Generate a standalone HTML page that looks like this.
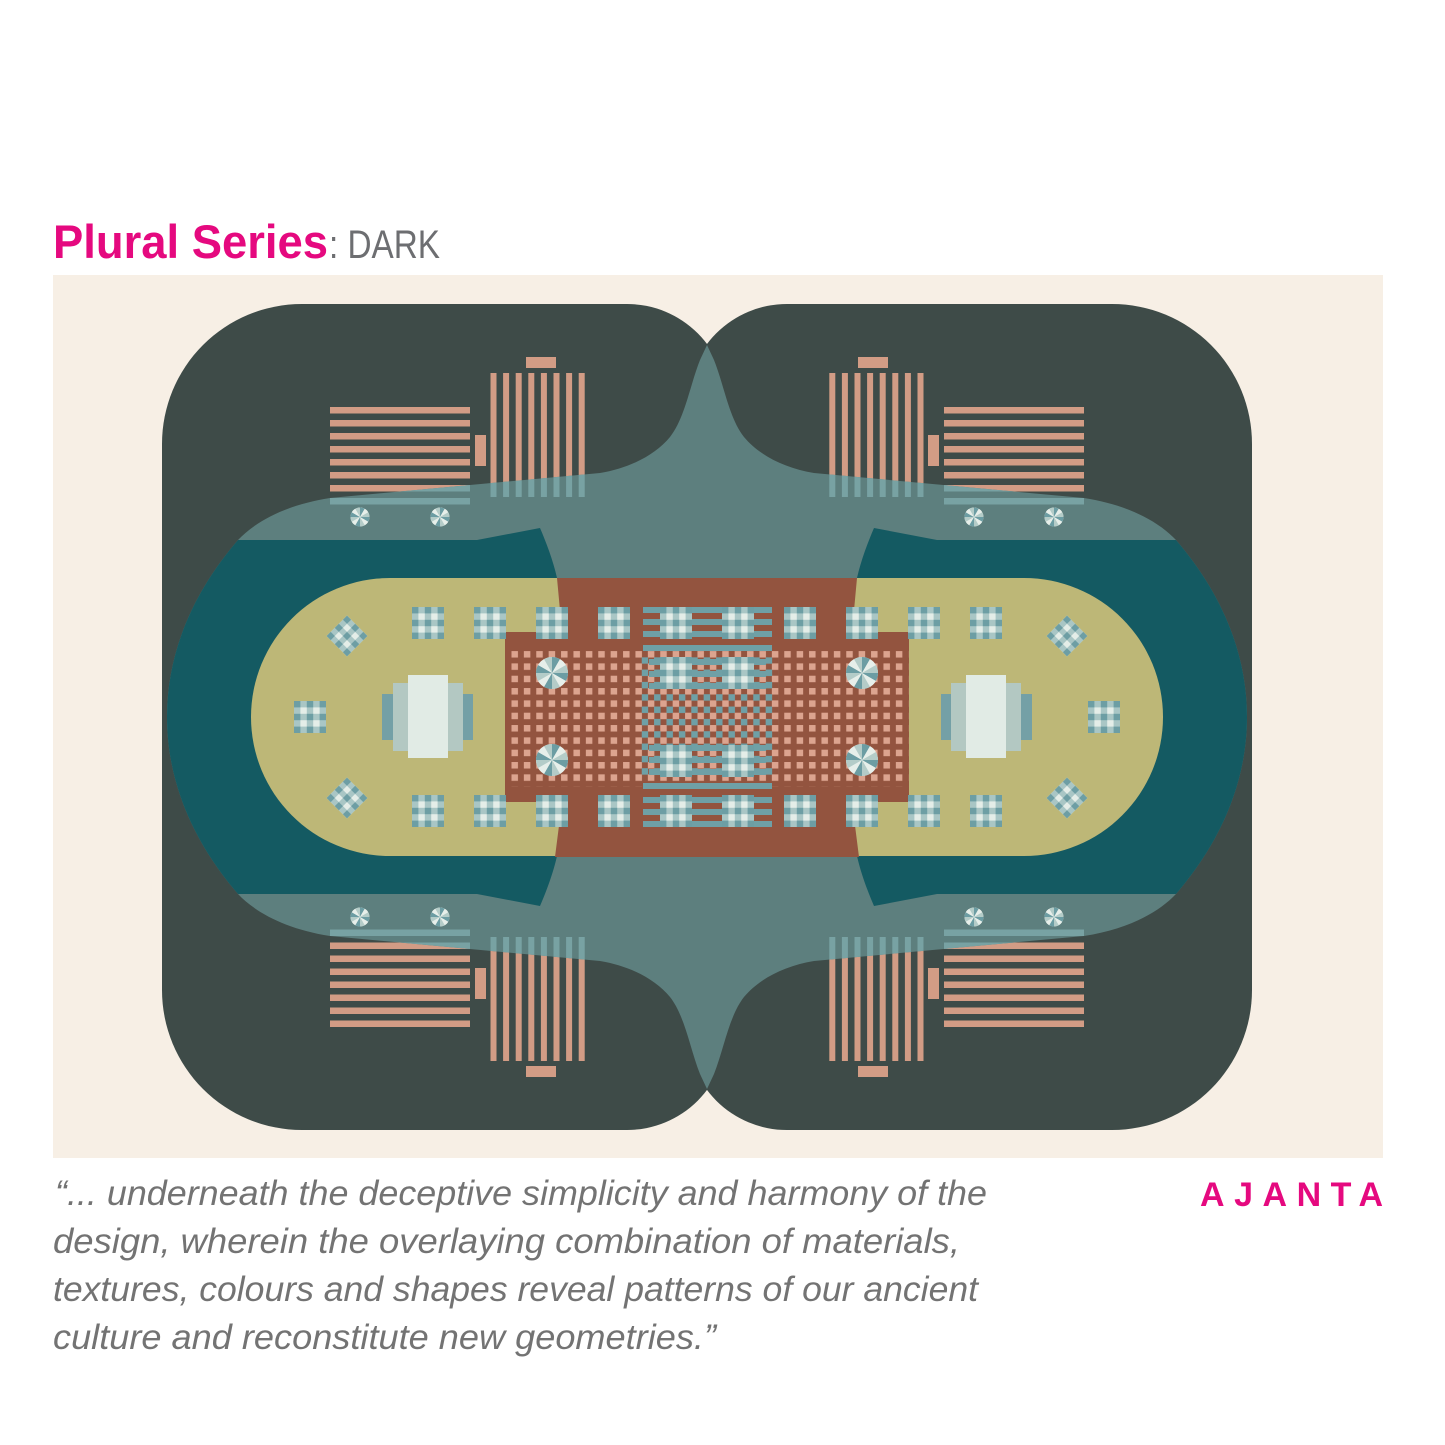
<!DOCTYPE html>
<html>
<head>
<meta charset="utf-8">
<style>
  html,body{margin:0;padding:0;background:#ffffff;}
  svg{display:block;}
</style>
</head>
<body>
<svg width="1445" height="1445" viewBox="0 0 1445 1445" xmlns="http://www.w3.org/2000/svg">
  <defs>
    <!-- gingham tile 32x32, 5 bands -->
    <g id="pl">
      <rect width="32" height="32" fill="#e4ede8"/>
      <g fill="#a9c6c5">
        <rect x="0" y="0" width="6.4" height="32"/>
        <rect x="12.8" y="0" width="6.4" height="32"/>
        <rect x="25.6" y="0" width="6.4" height="32"/>
        <rect x="0" y="0" width="32" height="6.4"/>
        <rect x="0" y="12.8" width="32" height="6.4"/>
        <rect x="0" y="25.6" width="32" height="6.4"/>
      </g>
      <g fill="#6d9ea4">
        <rect x="0" y="0" width="6.4" height="6.4"/><rect x="12.8" y="0" width="6.4" height="6.4"/><rect x="25.6" y="0" width="6.4" height="6.4"/>
        <rect x="0" y="12.8" width="6.4" height="6.4"/><rect x="12.8" y="12.8" width="6.4" height="6.4"/><rect x="25.6" y="12.8" width="6.4" height="6.4"/>
        <rect x="0" y="25.6" width="6.4" height="6.4"/><rect x="12.8" y="25.6" width="6.4" height="6.4"/><rect x="25.6" y="25.6" width="6.4" height="6.4"/>
      </g>
    </g>

    <!-- medallion, unit radius -->
    <g id="med">
      <circle r="1" fill="#e7efea"/>
      <path d="M0 0L1 0A1 1 0 0 1 .866 .5Z" fill="#6c9da3"/>
      <path d="M0 0L.866 .5A1 1 0 0 1 .5 .866Z" fill="#e7efea"/>
      <path d="M0 0L.5 .866A1 1 0 0 1 0 1Z" fill="#b4ccc8"/>
      <path d="M0 0L0 1A1 1 0 0 1 -.5 .866Z" fill="#6c9da3"/>
      <path d="M0 0L-.5 .866A1 1 0 0 1 -.866 .5Z" fill="#e7efea"/>
      <path d="M0 0L-.866 .5A1 1 0 0 1 -1 0Z" fill="#b4ccc8"/>
      <path d="M0 0L-1 0A1 1 0 0 1 -.866 -.5Z" fill="#6c9da3"/>
      <path d="M0 0L-.866 -.5A1 1 0 0 1 -.5 -.866Z" fill="#e7efea"/>
      <path d="M0 0L-.5 -.866A1 1 0 0 1 0 -1Z" fill="#b4ccc8"/>
      <path d="M0 0L0 -1A1 1 0 0 1 .5 -.866Z" fill="#6c9da3"/>
      <path d="M0 0L.5 -.866A1 1 0 0 1 .866 -.5Z" fill="#e7efea"/>
      <path d="M0 0L.866 -.5A1 1 0 0 1 1 0Z" fill="#b4ccc8"/>
    </g>

    <!-- salmon bar group (top-left quadrant) -->
    <g id="bars">
      <rect x="330" y="407" width="140" height="6.5"/>
      <rect x="330" y="420" width="140" height="6.5"/>
      <rect x="330" y="433" width="140" height="6.5"/>
      <rect x="330" y="446" width="140" height="6.5"/>
      <rect x="330" y="459" width="140" height="6.5"/>
      <rect x="330" y="472" width="140" height="6.5"/>
      <rect x="330" y="485" width="140" height="6.5"/>
      <rect x="330" y="498" width="140" height="6.5"/>
      <rect x="475" y="435" width="11" height="31"/>
      <rect x="490.5" y="373" width="6" height="124"/>
      <rect x="503.1" y="373" width="6" height="124"/>
      <rect x="515.7" y="373" width="6" height="124"/>
      <rect x="528.3" y="373" width="6" height="124"/>
      <rect x="540.9" y="373" width="6" height="124"/>
      <rect x="553.5" y="373" width="6" height="124"/>
      <rect x="566.1" y="373" width="6" height="124"/>
      <rect x="578.7" y="373" width="6" height="124"/>
      <rect x="526" y="357" width="30" height="11"/>
    </g>
    <g id="bars4">
      <use href="#bars"/>
      <use href="#bars" transform="translate(1414,0) scale(-1,1)"/>
      <use href="#bars" transform="translate(0,1434) scale(1,-1)"/>
      <use href="#bars" transform="translate(1414,1434) scale(-1,-1)"/>
    </g>

    <path id="tealpath" d="M238,540 C255,522 285,505 330,498 L600,473 C630,468 655,455 670,437 C685,418 690,385 700,360 L707,345 L714,360 C724,385 729,418 744,437 C759,455 784,468 814,473 L1084,498 C1129,505 1159,522 1176,540 C1219,590 1247,650 1247,717 C1247,784 1219,844 1176,894 C1159,912 1129,929 1084,936 L814,961 C784,966 759,979 744,997 C729,1016 724,1049 714,1074 L707,1089 L700,1074 C690,1049 685,1016 670,997 C655,979 630,966 600,961 L330,936 C285,929 255,912 238,894 C195,844 167,784 167,717 C167,650 195,590 238,540 Z"/>
    <clipPath id="tc"><use href="#tealpath"/></clipPath>

    <pattern id="pk" x="511.45" y="651.05" width="12.4" height="12.33" patternUnits="userSpaceOnUse">
      <rect width="6.5" height="6.5" fill="#dca48f"/>
    </pattern>
    <pattern id="tk" x="517.65" y="657.215" width="12.4" height="12.33" patternUnits="userSpaceOnUse">
      <rect width="6.5" height="6.5" fill="#6fa0a6"/>
    </pattern>
  </defs>

  <!-- background panel -->
  <rect x="0" y="0" width="1445" height="1445" fill="#ffffff"/>
  <rect x="53" y="275" width="1330" height="883" fill="#f7efe5"/>

  <!-- dark lobes -->
  <path d="M302,304 L627,304 A100,100 0 0 1 727,404 L727,1030 A100,100 0 0 1 627,1130 L302,1130 A140,140 0 0 1 162,990 L162,444 A140,140 0 0 1 302,304 Z" fill="#3e4b48"/>
  <path d="M787,304 L1112,304 A140,140 0 0 1 1252,444 L1252,990 A140,140 0 0 1 1112,1130 L787,1130 A100,100 0 0 1 687,1030 L687,404 A100,100 0 0 1 787,304 Z" fill="#3e4b48"/>

  <!-- salmon bars -->
  <g fill="#d29c85"><use href="#bars4"/></g>

  <!-- teal junction shape -->
  <use href="#tealpath" fill="#5d7f7e"/>

  <!-- bars seen through teal -->
  <g fill="#78a2a3" clip-path="url(#tc)"><use href="#bars4"/></g>

  <!-- small medallions on teal band -->
  <use href="#med" transform="translate(360,517) scale(9.5)"/>
  <use href="#med" transform="translate(440,517) scale(9.5)"/>
  <use href="#med" transform="translate(974,517) scale(9.5)"/>
  <use href="#med" transform="translate(1054,517) scale(9.5)"/>
  <use href="#med" transform="translate(360,917) scale(9.5)"/>
  <use href="#med" transform="translate(440,917) scale(9.5)"/>
  <use href="#med" transform="translate(974,917) scale(9.5)"/>
  <use href="#med" transform="translate(1054,917) scale(9.5)"/>

  <!-- dark teal wings -->
  <path d="M238,540 L477,540 L540,528 C546,542 553,560 557,578 L557,856 C553,874 546,892 540,906 L477,894 L238,894 C195,844 167,784 167,717 C167,650 195,590 238,540 Z" fill="#145a62"/>
  <path d="M1176,540 L937,540 L874,528 C868,542 861,560 857,578 L857,856 C861,874 868,892 874,906 L937,894 L1176,894 C1219,844 1247,784 1247,717 C1247,650 1219,590 1176,540 Z" fill="#145a62"/>

  <!-- khaki pill -->
  <path d="M390,578 L1024,578 A139,139 0 0 1 1024,856 L390,856 A139,139 0 0 1 390,578 Z" fill="#bdb777"/>

  <!-- red centre -->
  <path d="M557,578 L857,578 L852,632 L909,632 L909,802 L852,802 L859,857 L555,857 L562,802 L505,802 L505,632 L562,632 Z" fill="#93543f"/>

  <!-- pink grid and centre checker -->
  <rect x="511.45" y="651.05" width="396.8" height="135.63" fill="url(#pk)"/>
  <rect x="641.65" y="657.215" width="136.4" height="123.3" fill="url(#tk)"/>

  <!-- centre teal bars -->
  <g fill="#6fa0a6">
    <rect x="643" y="607" width="129" height="6"/>
    <rect x="643" y="619" width="129" height="6"/>
    <rect x="643" y="631" width="129" height="6"/>
    <rect x="643" y="645" width="129" height="6"/>
    <rect x="649" y="659" width="117" height="6"/>
    <rect x="649" y="671" width="117" height="6"/>
    <rect x="649" y="683" width="117" height="6"/>
    <rect x="649" y="745" width="117" height="6"/>
    <rect x="649" y="757" width="117" height="6"/>
    <rect x="649" y="769" width="117" height="6"/>
    <rect x="643" y="783" width="129" height="6"/>
    <rect x="643" y="797" width="129" height="6"/>
    <rect x="643" y="809" width="129" height="6"/>
    <rect x="643" y="821" width="129" height="6"/>
  </g>

  <!-- gingham tiles -->
  <use href="#pl" x="412" y="607"/>
  <use href="#pl" x="474" y="607"/>
  <use href="#pl" x="536" y="607"/>
  <use href="#pl" x="598" y="607"/>
  <use href="#pl" x="660" y="607"/>
  <use href="#pl" x="722" y="607"/>
  <use href="#pl" x="784" y="607"/>
  <use href="#pl" x="846" y="607"/>
  <use href="#pl" x="908" y="607"/>
  <use href="#pl" x="970" y="607"/>

  <use href="#pl" x="412" y="795"/>
  <use href="#pl" x="474" y="795"/>
  <use href="#pl" x="536" y="795"/>
  <use href="#pl" x="598" y="795"/>
  <use href="#pl" x="660" y="795"/>
  <use href="#pl" x="722" y="795"/>
  <use href="#pl" x="784" y="795"/>
  <use href="#pl" x="846" y="795"/>
  <use href="#pl" x="908" y="795"/>
  <use href="#pl" x="970" y="795"/>

  <use href="#pl" x="660" y="657"/>
  <use href="#pl" x="722" y="657"/>
  <use href="#pl" x="660" y="745"/>
  <use href="#pl" x="722" y="745"/>

  <use href="#pl" x="294" y="701"/>
  <use href="#pl" x="1088" y="701"/>

  <!-- diamonds -->
  <use href="#pl" transform="translate(347,636) rotate(45) scale(0.9) translate(-16,-16)"/>
  <use href="#pl" transform="translate(347,798) rotate(45) scale(0.9) translate(-16,-16)"/>
  <use href="#pl" transform="translate(1067,636) rotate(45) scale(0.9) translate(-16,-16)"/>
  <use href="#pl" transform="translate(1067,798) rotate(45) scale(0.9) translate(-16,-16)"/>

  <!-- medallions on red -->
  <use href="#med" transform="translate(552,673) scale(16)"/>
  <use href="#med" transform="translate(552,760) scale(16)"/>
  <use href="#med" transform="translate(862,673) scale(16)"/>
  <use href="#med" transform="translate(862,760) scale(16)"/>

  <!-- stages -->
  <rect x="382" y="694" width="91" height="46" fill="#74a0a6"/>
  <rect x="393" y="683" width="70" height="68" fill="#b3c8c2"/>
  <rect x="408" y="675" width="40" height="83" fill="#e1ebe5"/>
  <rect x="941" y="694" width="91" height="46" fill="#74a0a6"/>
  <rect x="951" y="683" width="70" height="68" fill="#b3c8c2"/>
  <rect x="966" y="675" width="40" height="83" fill="#e1ebe5"/>

  <!-- title -->
  <text x="53" y="258" font-family="'Liberation Sans', sans-serif" font-weight="bold" font-size="47" fill="#e5097f" textLength="275" lengthAdjust="spacingAndGlyphs">Plural Series</text>
  <text x="329" y="258" font-family="'Liberation Sans', sans-serif" font-size="40" fill="#6d6e71" textLength="111" lengthAdjust="spacingAndGlyphs">: DARK</text>

  <!-- quote -->
  <g font-family="'Liberation Sans', sans-serif" font-style="italic" font-size="35" fill="#737373">
    <text x="55" y="1205" textLength="932" lengthAdjust="spacingAndGlyphs">“... underneath the deceptive simplicity and harmony of the</text>
    <text x="53" y="1253" textLength="907" lengthAdjust="spacingAndGlyphs">design, wherein the overlaying combination of materials,</text>
    <text x="53" y="1301" textLength="925" lengthAdjust="spacingAndGlyphs">textures, colours and shapes reveal patterns of our ancient</text>
    <text x="53" y="1349" textLength="663" lengthAdjust="spacingAndGlyphs">culture and reconstitute new geometries.”</text>
  </g>

  <text x="1200" y="1206" font-family="'Liberation Sans', sans-serif" font-weight="bold" font-size="34" fill="#e5097f" textLength="183" lengthAdjust="spacing">AJANTA</text>
</svg>
</body>
</html>
